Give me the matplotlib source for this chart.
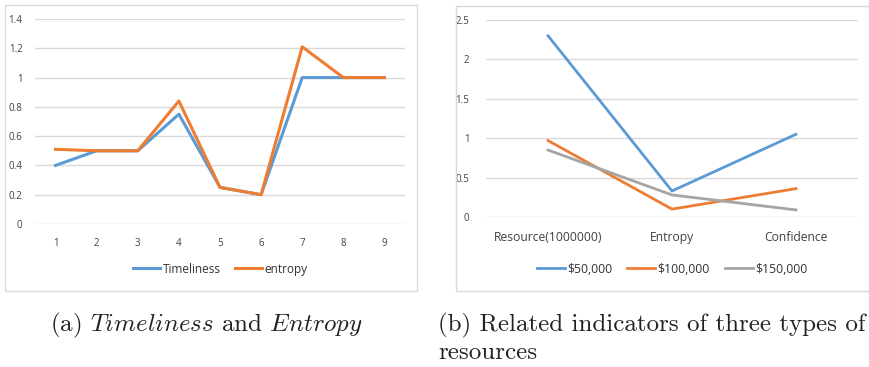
import matplotlib
matplotlib.use("Agg")
import matplotlib.pyplot as plt
from matplotlib.patches import Rectangle

# (a) Timeliness and entropy
steps = [1, 2, 3, 4, 5, 6, 7, 8, 9]
timeliness = [0.4, 0.5, 0.5, 0.75, 0.25, 0.2, 1.0, 1.0, 1.0]
entropy = [0.51, 0.5, 0.5, 0.84, 0.25, 0.2, 1.21, 1.0, 1.0]

# (b) indicators per resource type
indicators = ["Resource(1000000)", "Entropy", "Confidence"]
res_50k = [2.3, 0.33, 1.05]
res_100k = [0.97, 0.1, 0.36]
res_150k = [0.85, 0.28, 0.09]

BLUE = "#5B9BD5"
ORANGE = "#ED7D31"
GRAY = "#A5A5A5"
GRID = "#D9D9D9"
TXT = "#404040"

plt.rcParams["font.family"] = ["Open Sans", "DejaVu Sans"]
plt.rcParams["mathtext.fontset"] = "cm"

W, H = 869, 367
fig = plt.figure(figsize=(W / 100, H / 100), dpi=100)


def px_box(x0, y0, x1, y1):
    # pixel box (top-left origin) -> figure fraction rect
    return [x0 / W, 1 - y1 / H, (x1 - x0) / W, (y1 - y0) / H]


def style(ax):
    for s in ax.spines.values():
        s.set_visible(False)
    ax.grid(axis="y", color=GRID, linewidth=1)
    ax.set_axisbelow(True)
    ax.tick_params(length=0, colors=TXT)
    ax.set_facecolor("none")


# chart frames
for (x0, y0, x1, y1) in [(5, 5, 417, 291), (456, 6, 880, 291)]:
    fig.patches.append(Rectangle((x0 / W, 1 - y1 / H), (x1 - x0) / W, (y1 - y0) / H,
                                 transform=fig.transFigure, fill=False,
                                 edgecolor=GRID, linewidth=1))

# left chart
ax1 = fig.add_axes(px_box(35, 19, 405, 224))
style(ax1)
ax1.plot(steps, timeliness, color=BLUE, linewidth=2.2, label="Timeliness")
ax1.plot(steps, entropy, color=ORANGE, linewidth=2.2, label="entropy")
ax1.set_xlim(0.5, 9.5)
ax1.set_ylim(0, 1.4)
ax1.set_yticks([0, 0.2, 0.4, 0.6, 0.8, 1.0, 1.2, 1.4])
ax1.set_yticklabels(["0", "0.2", "0.4", "0.6", "0.8", "1", "1.2", "1.4"], fontsize=7)
ax1.set_xticks(steps)
ax1.set_xticklabels([str(s) for s in steps], fontsize=7)
ax1.tick_params(axis="y", pad=9)
ax1.tick_params(axis="x", pad=10)
ax1.legend(loc="center", bbox_to_anchor=(0.5, -0.22), ncol=2, frameon=False,
           fontsize=8.5, handlelength=2.3, handletextpad=0.2, columnspacing=1.2,
           labelcolor="#333333")

# right chart
ax2 = fig.add_axes(px_box(486, 20, 858, 217))
style(ax2)
xs = range(len(indicators))
ax2.plot(xs, res_50k, color=BLUE, linewidth=2.0, label="\\$50,000")
ax2.plot(xs, res_100k, color=ORANGE, linewidth=2.0, label="\\$100,000")
ax2.plot(xs, res_150k, color=GRAY, linewidth=2.0, label="\\$150,000")
ax2.set_xlim(-0.5, 2.5)
ax2.set_ylim(0, 2.5)
ax2.set_yticks([0, 0.5, 1, 1.5, 2, 2.5])
ax2.set_yticklabels(["0", "0.5", "1", "1.5", "2", "2.5"], fontsize=7)
ax2.set_xticks(list(xs))
ax2.set_xticklabels(indicators, fontsize=8.7)
ax2.tick_params(axis="y", pad=12)
ax2.tick_params(axis="x", pad=10)
ax2.legend(loc="center", bbox_to_anchor=(0.5, -0.265), ncol=3, frameon=False,
           fontsize=8.8, handlelength=2.3, handletextpad=0.2, columnspacing=1.2,
           labelcolor="#333333")

# captions
fig.text(50 / W, 1 - 325 / H, "(a) $Timeliness$ and $Entropy$", family="cmr10",
         fontsize=18, va="center", ha="left", color="#222222")
fig.text(438 / W, 1 - 325 / H, "(b) Related indicators of three types of", family="cmr10",
         fontsize=18, va="center", ha="left", color="#222222")
fig.text(438 / W, 1 - 353 / H, "resources", family="cmr10",
         fontsize=18, va="center", ha="left", color="#222222")

fig.savefig("out.png", dpi=100, facecolor="white")
